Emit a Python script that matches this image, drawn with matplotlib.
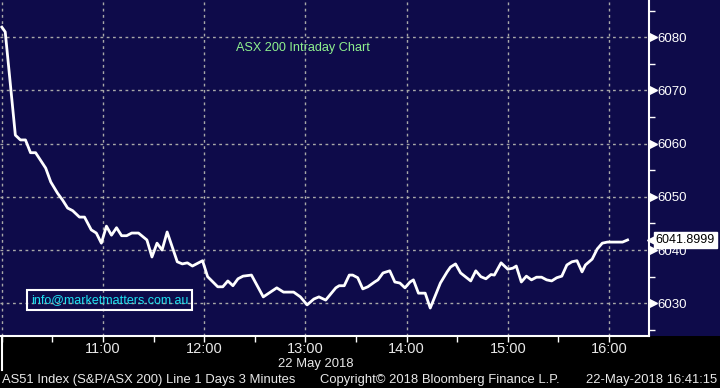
import matplotlib
matplotlib.use("Agg")
import matplotlib.pyplot as plt
import matplotlib.transforms as mtransforms

plt.rcParams['font.family'] = ['Liberation Sans', 'DejaVu Sans']

# minutes after 10:00 and index level
minutes = [0, 2, 8, 11, 14, 17, 20, 26, 29, 33, 36, 39, 42, 46, 49, 53, 56, 59, 62, 65,
           68, 71, 74, 77, 81, 86, 89, 92, 95, 98, 104, 107, 110, 113, 119, 122, 128, 131, 134, 137,
           140, 143, 148, 155, 163, 167, 173, 177, 181, 185, 188, 192, 198, 200, 203, 206, 208, 211, 214, 217,
           221, 223, 226, 230, 233, 236, 239, 242, 244, 247, 251, 254, 260, 264, 266, 269, 272, 278, 281, 284,
           287, 290, 292, 296, 300, 303, 305, 308, 311, 314, 317, 320, 323, 326, 329, 332, 335, 338, 341, 344,
           346, 350, 353, 356, 359, 368, 371]
values = [6081.9, 6081.0, 6061.6, 6060.7, 6060.7, 6058.3, 6058.3, 6055.4, 6052.8, 6050.7,
          6049.4, 6047.9, 6047.4, 6046.2, 6046.2, 6043.8, 6043.2, 6041.3, 6044.5, 6042.8,
          6044.2, 6042.7, 6042.7, 6043.2, 6043.2, 6041.9, 6038.7, 6041.3, 6040.0, 6043.4,
          6037.8, 6037.4, 6037.6, 6037.0, 6038.0, 6035.0, 6033.1, 6033.1, 6034.2, 6033.3,
          6034.6, 6035.1, 6035.3, 6031.2, 6032.9, 6032.1, 6032.1, 6031.2, 6029.7, 6030.8,
          6031.2, 6030.6, 6032.9, 6033.3, 6033.3, 6035.3, 6035.3, 6034.8, 6032.7, 6033.1,
          6034.0, 6034.4, 6035.7, 6036.1, 6034.0, 6033.8, 6032.9, 6034.0, 6034.4, 6031.9,
          6031.9, 6029.1, 6033.8, 6035.9, 6036.8, 6037.4, 6035.7, 6034.2, 6036.1, 6035.0,
          6034.6, 6035.4, 6035.3, 6037.6, 6036.4, 6036.6, 6037.0, 6034.0, 6035.1, 6034.4,
          6034.9, 6034.9, 6034.4, 6034.2, 6034.8, 6035.1, 6037.2, 6037.8, 6038.0, 6035.9,
          6037.2, 6038.3, 6040.2, 6041.3, 6041.5, 6041.5, 6041.9]
last_value = 6041.8999

hour_ticks = [0, 60, 120, 180, 240, 300, 360]
hour_labels = ["", "11:00", "12:00", "13:00", "14:00", "15:00", "16:00"]
half_ticks = [30, 90, 150, 210, 270, 330]
y_major = [6030, 6040, 6050, 6060, 6070, 6080]
y_minor = [6025, 6035, 6045, 6055, 6065, 6075, 6085]

navy = "#0e0b4a"
grey_txt = "#e8e8e8"

fig = plt.figure(figsize=(7.2, 3.88), dpi=100, facecolor=navy)
# black strip under the chart
fig.patches.append(plt.Rectangle((0, 0), 1, 52 / 388, transform=fig.transFigure,
                                 facecolor="black", edgecolor="none", zorder=0))

ax = fig.add_axes([0, 52 / 388, 649 / 720, 336 / 388])
ax.set_zorder(2)
ax.set_facecolor(navy)
ax.plot(minutes, values, color="white", lw=2, solid_joinstyle="round", zorder=3)

ax.set_xlim(-1.1, 383.7)
ax.set_ylim(6023.85, 6087.0)

for t in hour_ticks:
    ax.axvline(t, color="#a8a8a8", lw=1, ls=(0, (2, 2.5)), zorder=1)
for v in y_major:
    ax.axhline(v, color="#a8a8a8", lw=1, ls=(0, (2, 2.5)), zorder=1)

for s in ["left", "top"]:
    ax.spines[s].set_visible(False)
ax.spines["right"].set_color("white")
ax.spines["bottom"].set_color("white")
ax.spines["right"].set_linewidth(1.5)
ax.spines["bottom"].set_linewidth(1.5)

ax.set_xticks(hour_ticks + half_ticks)
ax.set_xticklabels(hour_labels + [""] * len(half_ticks))
ax.tick_params(axis="x", colors="white", length=4, width=1, labelcolor=grey_txt,
               labelsize=10.5, pad=0.5)

ax.yaxis.tick_right()
ax.set_yticks(y_major)
ax.set_yticklabels([str(v) for v in y_major])
ax.set_yticks(y_minor, minor=True)
ax.tick_params(axis="y", which="major", length=0, pad=6, labelcolor="white", labelsize=9.5)
ax.tick_params(axis="y", which="minor", length=4, width=1, colors="white")

# arrow heads on major y ticks
trans = mtransforms.blended_transform_factory(ax.transAxes, ax.transData)
ax.plot([1.0055] * len(y_major), y_major, marker=">", ls="none", color="white",
        markersize=6, transform=trans, clip_on=False, zorder=5)

# last value tag
ax.plot([1.006], [last_value], marker="<", ls="none", color="white", markersize=9,
        transform=trans, clip_on=False, zorder=6)
ax.text(1.01, last_value, f"{last_value:.4f}", transform=trans, color="black",
        fontsize=9, va="center", ha="left", zorder=7,
        bbox=dict(boxstyle="square,pad=0.15", facecolor="white", edgecolor="white"))

ax.text(0.3635, 0.857, "ASX 200 Intraday Chart", transform=ax.transAxes, color="#8ef08e",
        fontsize=9.1, ha="left", va="center")
ax.text(0.048, 0.107, "info@marketmatters.com.au", transform=ax.transAxes, color="#1ee0f0",
        fontsize=9, ha="left", va="center",
        bbox=dict(boxstyle="square,pad=0.3", facecolor="none", edgecolor="white", lw=1.5))

# separator at the day start
fig.add_artist(plt.Line2D([2 / 720, 2 / 720], [18 / 388, 52 / 388], color="white", lw=1.5))

fig.text(316 / 720, 1 - 364 / 388, "22 May 2018", color=grey_txt, fontsize=9.4,
         ha="center", va="center")
fig.text(2 / 720, 1 - 380 / 388, "AS51 Index (S&P/ASX 200) Line 1 Days 3 Minutes",
         color=grey_txt, fontsize=9.4, ha="left", va="center")
fig.text(320 / 720, 1 - 380 / 388, "Copyright\u00a9 2018 Bloomberg Finance L.P.",
         color=grey_txt, fontsize=9.4, ha="left", va="center")
fig.text(717 / 720, 1 - 380 / 388, "22-May-2018 16:41:15", color=grey_txt, fontsize=9.4,
         ha="right", va="center")

fig.savefig("out.png", dpi=100, facecolor=navy)
